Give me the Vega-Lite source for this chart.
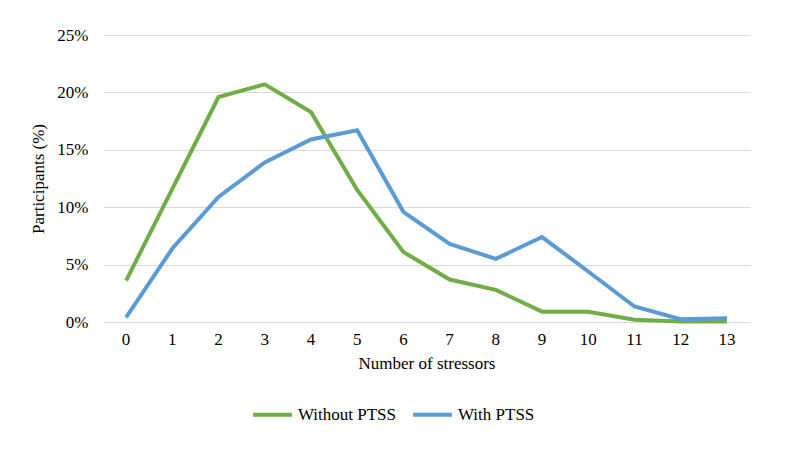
{
  "$schema": "https://vega.github.io/schema/vega-lite/v6.json",
  "autosize": "none",
  "width": 647,
  "height": 287,
  "padding": {"left": 103, "top": 35, "right": 37, "bottom": 130},
  "background": "white",
  "data": {
    "values": [
      {"stressors": 0, "series": "Without PTSS", "pct": 3.6},
      {"stressors": 1, "series": "Without PTSS", "pct": 11.6},
      {"stressors": 2, "series": "Without PTSS", "pct": 19.6},
      {"stressors": 3, "series": "Without PTSS", "pct": 20.7},
      {"stressors": 4, "series": "Without PTSS", "pct": 18.3},
      {"stressors": 5, "series": "Without PTSS", "pct": 11.5},
      {"stressors": 6, "series": "Without PTSS", "pct": 6.1},
      {"stressors": 7, "series": "Without PTSS", "pct": 3.7},
      {"stressors": 8, "series": "Without PTSS", "pct": 2.8},
      {"stressors": 9, "series": "Without PTSS", "pct": 0.9},
      {"stressors": 10, "series": "Without PTSS", "pct": 0.9},
      {"stressors": 11, "series": "Without PTSS", "pct": 0.2},
      {"stressors": 12, "series": "Without PTSS", "pct": 0.05},
      {"stressors": 13, "series": "Without PTSS", "pct": 0.05},
      {"stressors": 0, "series": "With PTSS", "pct": 0.4},
      {"stressors": 1, "series": "With PTSS", "pct": 6.4},
      {"stressors": 2, "series": "With PTSS", "pct": 10.9},
      {"stressors": 3, "series": "With PTSS", "pct": 13.9},
      {"stressors": 4, "series": "With PTSS", "pct": 15.9},
      {"stressors": 5, "series": "With PTSS", "pct": 16.7},
      {"stressors": 6, "series": "With PTSS", "pct": 9.6},
      {"stressors": 7, "series": "With PTSS", "pct": 6.8},
      {"stressors": 8, "series": "With PTSS", "pct": 5.5},
      {"stressors": 9, "series": "With PTSS", "pct": 7.4},
      {"stressors": 10, "series": "With PTSS", "pct": 4.4},
      {"stressors": 11, "series": "With PTSS", "pct": 1.35},
      {"stressors": 12, "series": "With PTSS", "pct": 0.25},
      {"stressors": 13, "series": "With PTSS", "pct": 0.33}
    ]
  },
  "mark": {"type": "line", "strokeWidth": 4, "strokeJoin": "miter", "strokeCap": "butt"},
  "encoding": {
    "x": {
      "field": "stressors",
      "type": "ordinal",
      "sort": "ascending",
      "scale": {"type": "band", "paddingInner": 0, "paddingOuter": 0},
      "axis": {
        "title": "Number of stressors",
        "labelAngle": 0,
        "labelPadding": 9,
        "titlePadding": 8,
        "domain": false,
        "ticks": false,
        "grid": false
      }
    },
    "y": {
      "field": "pct",
      "type": "quantitative",
      "scale": {"domain": [0, 25], "nice": false},
      "axis": {
        "title": "Participants (%)",
        "values": [0, 5, 10, 15, 20, 25],
        "labelExpr": "datum.value + '%'",
        "labelPadding": 15,
        "titlePadding": 9,
        "domain": false,
        "ticks": false,
        "grid": true
      }
    },
    "color": {
      "field": "series",
      "type": "nominal",
      "scale": {"domain": ["Without PTSS", "With PTSS"], "range": ["#70AD47", "#5B9BD5"]},
      "legend": {
        "title": null,
        "orient": "none",
        "direction": "horizontal",
        "legendX": 148,
        "legendY": 358,
        "symbolType": "stroke",
        "symbolSize": 1500,
        "symbolStrokeWidth": 4,
        "labelOffset": 4,
        "columnPadding": 8
      }
    }
  },
  "config": {
    "view": {"stroke": null},
    "font": "Liberation Serif, Times New Roman, DejaVu Serif, serif",
    "axis": {
      "labelFont": "Liberation Serif, Times New Roman, DejaVu Serif, serif",
      "titleFont": "Liberation Serif, Times New Roman, DejaVu Serif, serif",
      "labelFontSize": 17,
      "titleFontSize": 17,
      "titleFontWeight": "normal",
      "labelColor": "#000",
      "titleColor": "#000",
      "gridColor": "#d9d9d9",
      "gridWidth": 1
    },
    "legend": {
      "labelFont": "Liberation Serif, Times New Roman, DejaVu Serif, serif",
      "labelFontSize": 17,
      "labelColor": "#000"
    }
  }
}
